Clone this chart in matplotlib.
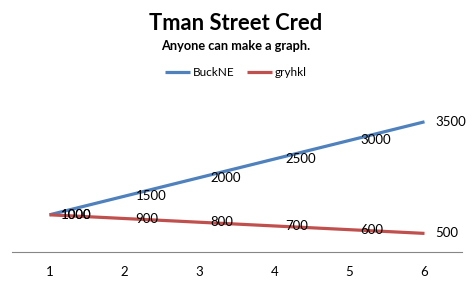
import matplotlib.pyplot as plt

plt.rcParams['font.family'] = ['Lato', 'DejaVu Sans']

# data
categories = [1, 2, 3, 4, 5, 6]
buckne = [1000, 1500, 2000, 2500, 3000, 3500]
gryhkl = [1000, 900, 800, 700, 600, 500]

blue = '#4F81BD'
red = '#C0504D'

fig = plt.figure(figsize=(4.72, 2.81), dpi=100)
ax = fig.add_axes([12 / 472, 29 / 281, 450 / 472, 148.8 / 281])

ax.plot(categories, buckne, color=blue, lw=2.3, label='BuckNE', solid_capstyle='butt')
ax.plot(categories, gryhkl, color=red, lw=2.3, label='gryhkl', solid_capstyle='butt')

# data labels to the right of each point
for x, y in zip(categories, buckne):
    ax.annotate(str(y), (x, y), xytext=(8, 0), textcoords='offset points',
                ha='left', va='center', fontsize=9.5)
for x, y in zip(categories, gryhkl):
    ax.annotate(str(y), (x, y), xytext=(8, 0), textcoords='offset points',
                ha='left', va='center', fontsize=9.5)

ax.set_xlim(0.5, 6.5)
ax.set_ylim(0, 4000)
ax.set_xticks(categories)
ax.set_yticks([])
for s in ['left', 'right', 'top']:
    ax.spines[s].set_visible(False)
ax.spines['bottom'].set_color('#868686')
ax.tick_params(axis='x', length=0, pad=10, labelsize=9.5)

fig.text(0.5, 1 - 23 / 281, 'Tman Street Cred', ha='center', va='center',
         fontsize=15.8, fontweight='bold')
fig.text(0.5, 1 - 46 / 281, 'Anyone can make a graph.', ha='center', va='center',
         fontsize=9.2, fontweight='bold')

ax.legend(loc='center', bbox_to_anchor=(0.5, 1 - 73 / 281), bbox_transform=fig.transFigure,
          ncol=2, frameon=False, fontsize=8.5, handlelength=2.1, handletextpad=0.3,
          columnspacing=1.0)

fig.savefig('out.png', dpi=100)
